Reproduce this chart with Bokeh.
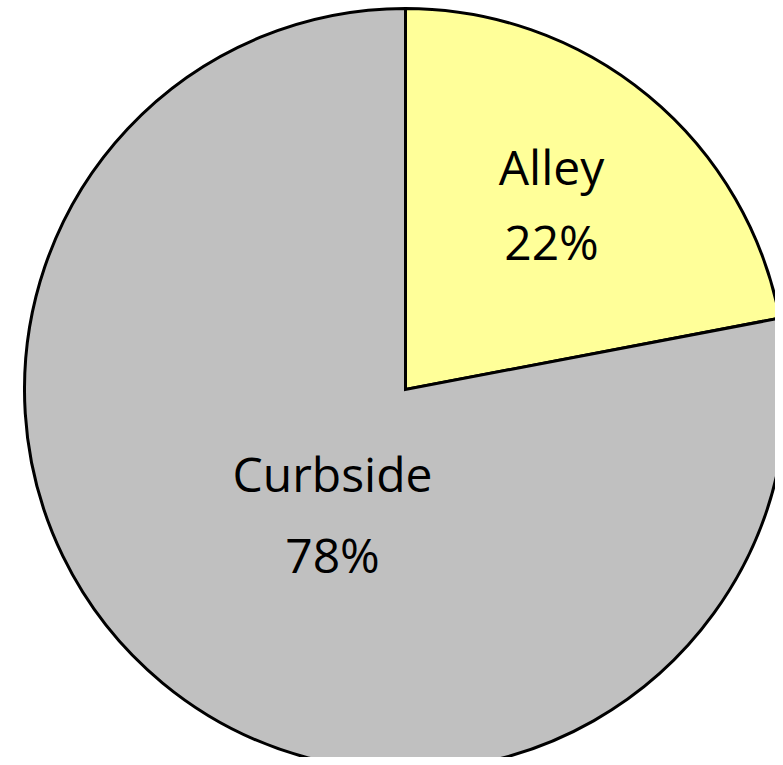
import math
from bokeh.plotting import figure
from bokeh.models import Range1d, ColumnDataSource
from bokeh.core.properties import value
from bokeh.embed import file_html
from bokeh.resources import INLINE

categories = ["Alley", "Curbside"]
shares = [22, 78]
pct_labels = ["22%", "78%"]
colors = ["#FFFF99", "#C0C0C0"]

W, H = 775, 757
cx, cy, r = 405, H - 389, 381

# compute wedge angles (clockwise from 12 o'clock)
total = sum(shares)
starts, ends = [], []
a = math.pi / 2
for s in shares:
    starts.append(a)
    a = a - s / total * 2 * math.pi
    ends.append(a)

# label offsets relative to the pie centre (layout)
label_dx = [146, -73]
name_dy = [223, -84]
pct_dy = [148, -165]

src = ColumnDataSource(dict(cat=categories, start=starts, end=ends, color=colors,
                            pct=pct_labels,
                            lx=[cx + d for d in label_dx],
                            ny=[cy + d for d in name_dy],
                            py=[cy + d for d in pct_dy]))

p = figure(width=W, height=H, x_range=Range1d(0, W), y_range=Range1d(0, H),
           output_backend="svg", toolbar_location=None, min_border=0)
p.axis.visible = False
p.grid.visible = False
p.outline_line_color = None
p.background_fill_color = "white"

p.wedge(x=cx, y=cy, radius=r, start_angle="start", end_angle="end",
        direction="clock", fill_color="color", line_color="black",
        line_width=3, line_join="miter", source=src)

p.text(x="lx", y="ny", text="cat", text_align="center", text_baseline="alphabetic",
       text_font=value("Open Sans"), text_font_size="48px", text_color="black", source=src)
p.text(x="lx", y="py", text="pct", text_align="center", text_baseline="alphabetic",
       text_font=value("Open Sans"), text_font_size="48px", text_color="black", source=src)

open("out.html", "w").write(file_html(p, INLINE))
